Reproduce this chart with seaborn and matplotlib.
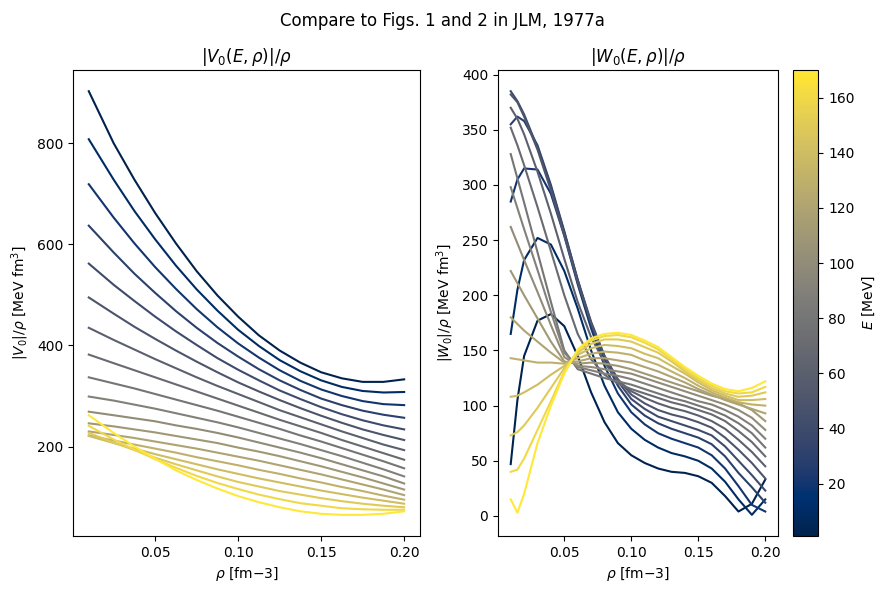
import numpy as np
import pandas as pd
import seaborn as sns
import matplotlib
matplotlib.use("Agg")
import matplotlib.pyplot as plt
from matplotlib.colors import Normalize
from matplotlib.cm import ScalarMappable

# energies of the plotted curves [MeV]
E_MEV = [1, 10, 20, 30, 40, 50, 60, 70, 80, 90, 100, 110, 120, 130, 140, 150, 160, 170]

# |V0|/rho, one row per energy
RHO_V = [0.01, 0.025, 0.0375, 0.05, 0.0625, 0.075, 0.0875, 0.10,
         0.1125, 0.125, 0.1375, 0.15, 0.1625, 0.175, 0.1875, 0.20]
V_ROWS = [
    [903, 800, 728, 662, 602, 547, 499, 457, 420, 390, 366, 347, 335, 328, 328, 333],
    [808, 728, 666, 610, 558, 511, 469, 431, 399, 371, 349, 331, 318, 310, 307, 308],
    [719, 653, 602, 555, 512, 472, 436, 404, 376, 351, 330, 313, 300, 290, 284, 282],
    [637, 584, 542, 504, 468, 435, 405, 378, 353, 331, 312, 295, 282, 271, 263, 257],
    [562, 520, 488, 457, 428, 401, 375, 352, 331, 311, 294, 278, 264, 252, 242, 234],
    [495, 463, 437, 413, 390, 368, 347, 327, 309, 292, 276, 261, 247, 234, 223, 213],
    [435, 411, 392, 373, 355, 337, 320, 304, 288, 272, 258, 244, 230, 217, 204, 193],
    [382, 365, 351, 337, 323, 309, 295, 281, 267, 253, 240, 227, 213, 200, 187, 174],
    [337, 325, 315, 304, 293, 282, 271, 259, 247, 235, 222, 210, 197, 184, 171, 157],
    [299, 291, 283, 275, 266, 257, 248, 238, 227, 216, 205, 193, 181, 168, 155, 141],
    [269, 262, 256, 250, 242, 235, 227, 218, 208, 198, 188, 177, 165, 153, 141, 127],
    [246, 240, 234, 228, 221, 214, 207, 198, 190, 181, 171, 161, 150, 139, 127, 115],
    [230, 223, 217, 210, 203, 196, 188, 180, 172, 163, 154, 145, 135, 125, 115, 104],
    [222, 212, 204, 196, 188, 179, 171, 163, 154, 146, 137, 129, 120, 112, 103, 95],
    [221, 207, 196, 185, 175, 165, 155, 146, 137, 129, 121, 113, 106, 99, 93, 87],
    [227, 208, 193, 178, 165, 153, 141, 130, 121, 112, 105, 98, 92, 87, 83, 80],
    [241, 214, 194, 175, 158, 142, 128, 116, 105, 96, 88, 83, 78, 76, 75, 75],
    [262, 227, 200, 176, 153, 134, 117, 102, 90, 80, 72, 67, 65, 65, 67, 72],
]

# |W0|/rho
RHO_W = [0.01, 0.015, 0.02, 0.03, 0.04, 0.05, 0.06, 0.07, 0.08, 0.09, 0.10,
         0.11, 0.12, 0.13, 0.14, 0.15, 0.16, 0.17, 0.18, 0.19, 0.20]
W_ROWS = [
    [47, 105, 145, 177, 183, 172, 145, 112, 85, 66, 55, 48, 43, 40, 39, 36, 30, 18, 4, 11, 33],
    [165, 205, 232, 252, 246, 222, 188, 150, 118, 94, 79, 69, 62, 57, 54, 50, 43, 31, 15, 1, 15],
    [285, 305, 315, 314, 292, 254, 210, 170, 136, 111, 94, 83, 75, 70, 66, 62, 55, 43, 27, 10, 4],
    [355, 362, 358, 336, 300, 258, 214, 174, 142, 118, 101, 91, 84, 79, 75, 71, 65, 54, 39, 26, 12],
    [385, 376, 364, 334, 298, 257, 214, 176, 145, 122, 106, 97, 90, 86, 82, 78, 73, 63, 50, 37, 23],
    [382, 375, 362, 332, 295, 254, 212, 175, 145, 124, 110, 102, 96, 92, 89, 85, 80, 71, 60, 48, 34],
    [370, 360, 346, 312, 274, 233, 194, 162, 139, 123, 113, 107, 102, 98, 95, 91, 86, 79, 69, 58, 45],
    [352, 336, 318, 280, 240, 200, 165, 142, 128, 120, 115, 111, 107, 103, 100, 96, 92, 86, 77, 67, 54],
    [328, 306, 284, 239, 194, 150, 133, 129, 125, 122, 119, 115, 111, 107, 104, 100, 96, 91, 84, 75, 62],
    [298, 279, 260, 223, 185, 148, 135, 132, 129, 127, 124, 120, 116, 112, 108, 104, 101, 96, 90, 82, 70],
    [262, 247, 232, 203, 173, 144, 136, 135, 133, 131, 129, 125, 121, 117, 113, 109, 105, 101, 96, 89, 78],
    [222, 211, 200, 179, 158, 140, 138, 139, 138, 136, 133, 129, 125, 121, 117, 113, 109, 106, 102, 96, 86],
    [180, 174, 168, 158, 148, 139, 140, 143, 143, 141, 139, 135, 131, 126, 121, 115, 110, 105, 101, 97, 93],
    [143, 142, 141, 139, 139, 138, 143, 147, 149, 148, 146, 141, 137, 131, 125, 118, 112, 107, 103, 101, 100],
    [108, 109, 112, 119, 128, 136, 146, 152, 155, 154, 152, 147, 143, 136, 129, 121, 114, 109, 105, 105, 106],
    [73, 76, 82, 98, 116, 134, 148, 156, 160, 160, 158, 153, 148, 140, 131, 123, 116, 111, 108, 109, 112],
    [40, 42, 52, 78, 104, 131, 150, 159, 163, 164, 162, 157, 151, 142, 133, 125, 118, 113, 111, 112, 117],
    [15, 3, 20, 66, 100, 129, 151, 161, 165, 166, 164, 159, 153, 144, 135, 127, 120, 115, 113, 116, 122],
]


def to_long(rho, rows):
    recs = []
    for e, vals in zip(E_MEV, rows):
        for r, v in zip(rho, vals):
            recs.append({"E": e, "rho": r, "val": v})
    return pd.DataFrame(recs)


df_v = to_long(RHO_V, V_ROWS)
df_w = to_long(RHO_W, W_ROWS)

fig = plt.figure(figsize=(8.85, 5.93), dpi=100)
ax1 = fig.add_axes([0.0825, 0.0961, 0.392, 0.7858])
ax2 = fig.add_axes([0.5627, 0.0961, 0.3164, 0.7858])
cax = fig.add_axes([0.8966, 0.0961, 0.0282, 0.7858])

norm = Normalize(vmin=min(E_MEV), vmax=max(E_MEV))
for ax, df in [(ax1, df_v), (ax2, df_w)]:
    sns.lineplot(data=df, x="rho", y="val", hue="E", palette="cividis",
                 hue_norm=norm, estimator=None, legend=False,
                 linewidth=1.5, ax=ax)
    ax.set_xlabel(r"$\rho$ [fm$-3$]")

ax1.set_title(r"$|V_0(E,\rho)|/\rho$")
ax1.set_ylabel(r"$|V_0|/\rho$ [MeV fm$^3$]")
ax2.set_title(r"$|W_0(E,\rho)|/\rho$")
ax2.set_ylabel(r"$|W_0|/\rho$ [MeV fm$^3$]")

sm = ScalarMappable(norm=norm, cmap="cividis")
fig.colorbar(sm, cax=cax, label=r"$E$ [MeV]")

fig.suptitle("Compare to Figs. 1 and 2 in JLM, 1977a")
fig.savefig("out.png", dpi=100)
